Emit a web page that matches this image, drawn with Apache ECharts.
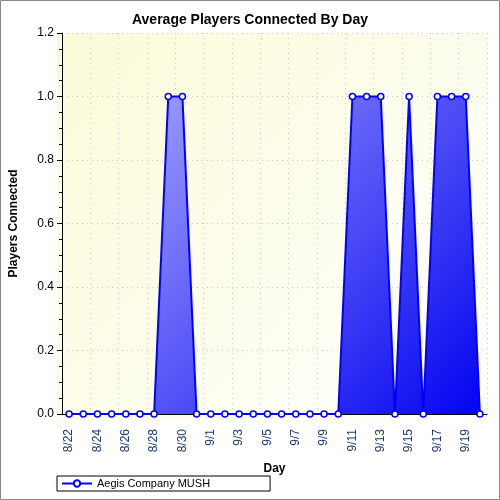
<!DOCTYPE html><html><head><meta charset="utf-8"><script src="https://cdn.jsdelivr.net/npm/echarts@6/dist/echarts.min.js"></script></head><body style="margin:0"><div id="c" style="width:500px;height:500px"></div><script>
const days=['8/22','8/23','8/24','8/25','8/26','8/27','8/28','8/29','8/30','8/31','9/1','9/2','9/3','9/4','9/5','9/6','9/7','9/8','9/9','9/10','9/11','9/12','9/13','9/14','9/15','9/16','9/17','9/18','9/19','9/20'];
const players=[0,0,0,0,0,0,0,1,1,0,0,0,0,0,0,0,0,0,0,0,1,1,1,0,1,0,1,1,1,0];
const c=echarts.init(document.getElementById('c'));
c.setOption({backgroundColor:'#fff',animation:false,
graphic:[{type:'rect',shape:{x:0.5,y:0.5,width:499,height:499},style:{fill:'none',stroke:'#888'}},
{type:'rect',z:-1,shape:{x:57,y:33,width:430,height:388},style:{fill:new echarts.graphic.LinearGradient(0,0,1,1,[{offset:0,color:'#fbfbd8'},{offset:1,color:'#ffffff'}])}}],
title:{text:'Average Players Connected By Day',left:'center',top:8,textStyle:{fontFamily:'Liberation Sans',fontSize:14,fontWeight:'bold',color:'#000'}},
legend:{left:57,top:476,itemWidth:30,itemHeight:8,borderColor:'#000',borderWidth:1,padding:[2,60,2,4],borderRadius:0,textStyle:{fontFamily:'Liberation Sans',fontSize:11,color:'#000'}},
grid:{left:57,right:13,top:33,bottom:86},
xAxis:{type:'category',data:days,boundaryGap:true,offset:7,name:'Day',nameLocation:'middle',nameGap:42,nameTextStyle:{fontFamily:'Liberation Sans',fontWeight:'bold',fontSize:12,color:'#000'},
axisLine:{lineStyle:{color:'#000'}},axisTick:{alignWithLabel:true,interval:0,lineStyle:{color:'#000'}},
axisLabel:{interval:1,rotate:90,fontFamily:'Liberation Sans',fontSize:12,color:'#1a3a7a'},splitLine:{show:true,interval:1,lineStyle:{color:'#ccc',type:[1,4]}}},
yAxis:{type:'value',min:0,max:1.2,interval:0.2,name:'Players Connected',nameLocation:'middle',nameGap:42,nameTextStyle:{fontFamily:'Liberation Sans',fontWeight:'bold',fontSize:12,color:'#000'},
axisLine:{show:true,lineStyle:{color:'#000'}},axisTick:{show:true,lineStyle:{color:'#000'}},minorTick:{show:true,splitNumber:4,length:3,lineStyle:{color:'#000'}},
axisLabel:{formatter:v=>v.toFixed(1),fontFamily:'Liberation Sans',fontSize:12,color:'#000'},splitLine:{lineStyle:{color:'#ccc',type:[1,4]}}},
series:[{name:'Aegis Company MUSH',type:'line',data:players,symbol:'circle',symbolSize:6,itemStyle:{color:'#fff',borderColor:'#0000ff',borderWidth:1.5},lineStyle:{color:'#0000ff',width:2},
areaStyle:{opacity:1,color:new echarts.graphic.LinearGradient(57,33,487,421,[{offset:0,color:'#c0c0ff'},{offset:1,color:'#0000f0'}],true)}}]});
</script></body></html>
